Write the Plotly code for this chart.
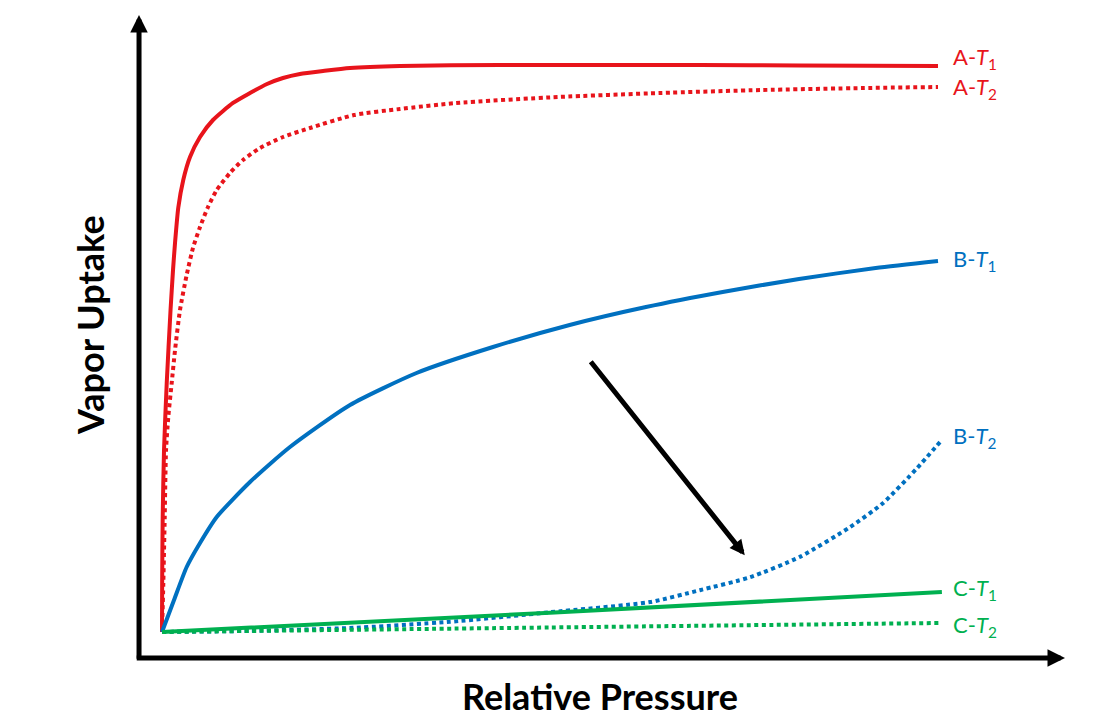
import plotly.graph_objects as go

# ---- data (relative pressure, vapor uptake) ----
a_t1_x = [0, 0.0002, 0.0009, 0.0026, 0.0061, 0.0110, 0.0142, 0.0168, 0.0210, 0.0274, 0.0361, 0.0490,
          0.0657, 0.0915, 0.1134, 0.1353, 0.1559, 0.1778, 0.2075, 0.2423, 0.3067, 0.4356, 0.5644,
          0.6933, 0.8222, 1.0]
a_t1_y = [0, 0.087, 0.2035, 0.3221, 0.4407, 0.5699, 0.6407, 0.6889, 0.7513, 0.800, 0.8407, 0.8761,
          0.9062, 0.9363, 0.9540, 0.9699, 0.9805, 0.9876, 0.9929, 0.9982, 1.0018, 1.0035, 1.0035,
          1.0035, 1.0027, 1.0018]

a_t2_x = [0, 0.0017, 0.0035, 0.0052, 0.0081, 0.0125, 0.0168, 0.0232, 0.0318, 0.0399, 0.0490, 0.0593,
          0.0705, 0.0876, 0.1044, 0.1263, 0.1559, 0.1907, 0.2474, 0.3067, 0.3789, 0.5103, 0.6418,
          0.7732, 0.9046, 1.0]
a_t2_y = [0, 0.0867, 0.2035, 0.3221, 0.3805, 0.4407, 0.4991, 0.5699, 0.6319, 0.6796, 0.7168, 0.7522,
          0.7823, 0.8124, 0.8354, 0.8566, 0.8761, 0.8920, 0.9150, 0.9257, 0.9363, 0.9469, 0.9540,
          0.9593, 0.9628, 0.9646]

b_t1_x = [0, 0.0155, 0.0318, 0.0490, 0.0705, 0.1134, 0.1649, 0.2423, 0.3280,
          0.4265, 0.5253, 0.6237, 0.7225, 0.8209, 0.9197, 1.0]
b_t1_y = [0, 0.0566, 0.1150, 0.1575, 0.2035, 0.2655, 0.3274, 0.4018, 0.4584,
          0.5044, 0.5434, 0.5752, 0.6018, 0.6248, 0.6442, 0.6566]

b_t2_x = [0, 0.113, 0.242, 0.371, 0.500, 0.629, 0.693, 0.758, 0.822, 0.887, 0.929, 0.973, 1.005]
b_t2_y = [0, 0.002, 0.007, 0.018, 0.035, 0.053, 0.074, 0.097, 0.133, 0.186, 0.228, 0.290, 0.340]

c_t1_x = [0, 0.5, 1.005]
c_t1_y = [0, 0.034, 0.071]

c_t2_x = [0, 0.5, 1.005]
c_t2_y = [0, 0.008, 0.016]

labels = ["A-<i>T</i><sub>1</sub>", "A-<i>T</i><sub>2</sub>", "B-<i>T</i><sub>1</sub>",
          "B-<i>T</i><sub>2</sub>", "C-<i>T</i><sub>1</sub>", "C-<i>T</i><sub>2</sub>"]
label_dy = [7.5, -1, 1, 3, 3, -3]  # pixel nudges of the end labels

RED = "#E8141B"
BLUE = "#0070C0"
GREEN = "#00B050"
FONT = "Lato, Open Sans, sans-serif"

series = [
    (a_t1_x, a_t1_y, RED, "solid"),
    (a_t2_x, a_t2_y, RED, "4px,3.5px"),
    (b_t1_x, b_t1_y, BLUE, "solid"),
    (b_t2_x, b_t2_y, BLUE, "4px,3.5px"),
    (c_t1_x, c_t1_y, GREEN, "solid"),
    (c_t2_x, c_t2_y, GREEN, "4px,3.5px"),
]

# page body has an 8px margin; layout below is expressed in window pixels
OFF = 8
W, H = 1113 - 2 * OFF, 727 - 2 * OFF
X0_PX, X_SCALE = 162 - OFF, 776.0   # x = 0 at this pixel, px per unit
Y0_PX, Y_SCALE = 632 - OFF, 565.0   # y = 0 at this pixel, px per unit

fig = go.Figure()
annotations = []
for (xs, ys, col, dash), lab, dy in zip(series, labels, label_dy):
    fig.add_trace(go.Scatter(
        x=xs, y=ys, mode="lines",
        line=dict(color=col, width=4, dash=dash, shape="spline", smoothing=0.6),
        hoverinfo="skip", showlegend=False,
    ))
    annotations.append(dict(
        x=1.0, y=ys[-1], xref="x", yref="y", text=lab, showarrow=False,
        xanchor="left", yanchor="middle", xshift=13, yshift=dy,
        font=dict(family=FONT, size=22, color=col),
    ))

# axes drawn as arrows
annotations += [
    dict(x=-0.0296, y=1.092, ax=-0.0296, ay=-0.050, xref="x", yref="y", axref="x", ayref="y",
         text="", showarrow=True, arrowhead=2, arrowsize=0.7, arrowwidth=5, arrowcolor="black"),
    dict(x=1.1637, y=-0.046, ax=-0.0345, ay=-0.046, xref="x", yref="y", axref="x", ayref="y",
         text="", showarrow=True, arrowhead=2, arrowsize=0.7, arrowwidth=5, arrowcolor="black"),
    # diagonal trend arrow
    dict(x=0.751, y=0.136, ax=0.551, ay=0.481, xref="x", yref="y", axref="x", ayref="y",
         text="", showarrow=True, arrowhead=2, arrowsize=0.6, arrowwidth=5, arrowcolor="black"),
    # axis titles
    dict(x=(600 - OFF) / W, y=1 - (696 - OFF) / H, xref="paper", yref="paper",
         text="<b>Relative Pressure</b>", showarrow=False, xanchor="center", yanchor="middle",
         font=dict(family=FONT, size=36, color="black")),
    dict(x=(90 - OFF) / W, y=1 - (325 - OFF) / H, xref="paper", yref="paper",
         text="<b>Vapor Uptake</b>", showarrow=False, xanchor="center", yanchor="middle",
         textangle=-90, font=dict(family=FONT, size=36, color="black")),
]

fig.update_layout(
    width=W, height=H,
    margin=dict(l=0, r=0, t=0, b=0),
    paper_bgcolor="white", plot_bgcolor="white",
    xaxis=dict(range=[-X0_PX / X_SCALE, (W - X0_PX) / X_SCALE], visible=False, fixedrange=True),
    yaxis=dict(range=[-(H - Y0_PX) / Y_SCALE, Y0_PX / Y_SCALE], visible=False, fixedrange=True),
    annotations=annotations,
    showlegend=False,
)

fig.write_html("out.html")
